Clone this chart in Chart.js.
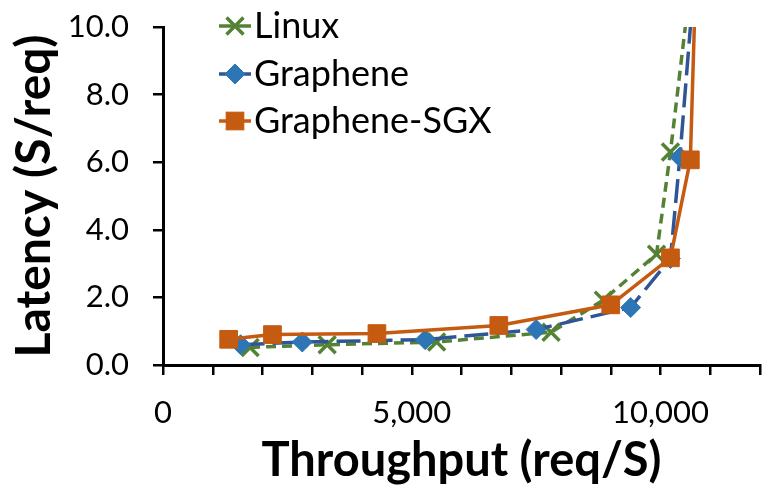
<!DOCTYPE html>
<html>
<head>
<meta charset="utf-8">
<script src="https://cdn.jsdelivr.net/npm/chart.js@4/dist/chart.umd.min.js"></script>
<style>
    html, body { margin: 0; padding: 0; background: #ffffff; }
    #wrap { width: 779px; height: 489px; }
</style>
</head>
<body>
<div id="wrap"><canvas id="latencyChart" width="779" height="489"></canvas></div>
<script>
// Series names
const seriesNames = ['Linux', 'Graphene', 'Graphene-SGX'];

// Throughput (req/S) and latency (S/req)
const linuxThroughput = [1750, 3300, 5500, 7800, 8850, 9920, 10200, 10820];
const linuxLatency    = [0.52, 0.60, 0.68, 0.97, 1.92, 3.28, 6.30, 14.0];

const grapheneThroughput = [1560, 2800, 5270, 7500, 9400, 10200, 10390, 10820];
const grapheneLatency    = [0.60, 0.68, 0.75, 1.05, 1.70, 3.15, 6.15, 14.0];

const sgxThroughput = [1320, 2200, 4300, 6750, 9000, 10200, 10600, 10760];
const sgxLatency    = [0.76, 0.90, 0.93, 1.17, 1.78, 3.17, 6.07, 14.0];

// Axis ranges / ticks
const xRange = [0, 12000];
const xTickStep = 1000;
const xLabelStep = 5000;
const yRange = [0, 10];
const yTickStep = 2;

const FONT = 'Lato, "Open Sans", sans-serif';

/**
 * Zip two arrays into {x, y} points
 */
function toPoints(xs, ys) {
    return xs.map((x, i) => ({ x: x, y: ys[i] }));
}

/**
 * Draw a legend marker the same way the chart does
 */
function drawMarker(ctx, ds, x, y) {
    ctx.save();
    ctx.setLineDash([]);
    ctx.lineWidth = ds.pointBorderWidth;
    ctx.strokeStyle = ds.pointBorderColor;
    ctx.fillStyle = ds.pointBackgroundColor;
    const r = ds.pointRadius;
    if (ds.pointStyle === 'crossRot') {
        const d = r * Math.SQRT1_2;
        ctx.beginPath();
        ctx.moveTo(x - d, y - d); ctx.lineTo(x + d, y + d);
        ctx.moveTo(x - d, y + d); ctx.lineTo(x + d, y - d);
        ctx.stroke();
    } else if (ds.pointStyle === 'rectRot') {
        ctx.beginPath();
        ctx.moveTo(x, y - r); ctx.lineTo(x + r, y);
        ctx.lineTo(x, y + r); ctx.lineTo(x - r, y);
        ctx.closePath();
        ctx.fill(); ctx.stroke();
    } else {
        const s = r * Math.SQRT1_2;
        ctx.fillRect(x - s, y - s, 2 * s, 2 * s);
        ctx.strokeRect(x - s, y - s, 2 * s, 2 * s);
    }
    ctx.restore();
}

// Legend drawn inside the plot, top left, line + marker like Excel
const insideLegend = {
    id: 'insideLegend',
    afterDraw(chart) {
        const ctx = chart.ctx;
        const rows = [26, 74, 121];
        const lineX0 = 219, lineX1 = 251, textX = 254;
        chart.data.datasets.forEach((ds, i) => {
            const y = rows[i];
            ctx.save();
            ctx.strokeStyle = ds.borderColor;
            ctx.lineWidth = ds.borderWidth;
            ctx.setLineDash([]);
            ctx.beginPath();
            ctx.moveTo(lineX0, y);
            ctx.lineTo(lineX1, y);
            ctx.stroke();
            ctx.restore();
            drawMarker(ctx, ds, (lineX0 + lineX1) / 2, y);
            ctx.save();
            ctx.fillStyle = '#000000';
            ctx.font = '36px ' + FONT;
            ctx.textBaseline = 'middle';
            ctx.textAlign = 'left';
            ctx.fillText(ds.label, textX, y);
            ctx.restore();
        });
    }
};

const datasets = [
    {
        label: seriesNames[0],
        data: toPoints(linuxThroughput, linuxLatency),
        borderColor: '#548235',
        borderWidth: 3.5,
        borderDash: [10, 6],
        pointStyle: 'crossRot',
        pointRadius: 12,
        pointBorderWidth: 3.5,
        pointBorderColor: '#548235',
        pointBackgroundColor: '#548235',
        order: 2
    },
    {
        label: seriesNames[1],
        data: toPoints(grapheneThroughput, grapheneLatency),
        borderColor: '#2F5597',
        borderWidth: 3.5,
        borderDash: [24, 8],
        pointStyle: 'rectRot',
        pointRadius: 10,
        pointBorderWidth: 1,
        pointBorderColor: '#2E75B6',
        pointBackgroundColor: '#2E75B6',
        order: 1
    },
    {
        label: seriesNames[2],
        data: toPoints(sgxThroughput, sgxLatency),
        borderColor: '#C55A11',
        borderWidth: 3.5,
        pointStyle: 'rect',
        pointRadius: 12.5,
        pointBorderWidth: 1,
        pointBorderColor: '#C55A11',
        pointBackgroundColor: '#C55A11',
        order: 0
    }
];

const axisGrid = {
    drawOnChartArea: false,
    drawTicks: true,
    tickLength: 10,
    color: '#000000',
    lineWidth: 2.5
};

new Chart(document.getElementById('latencyChart'), {
    type: 'line',
    data: { datasets: datasets },
    options: {
        responsive: false,
        animation: false,
        devicePixelRatio: 1,
        layout: { padding: { top: 27, right: 2, left: 0, bottom: 0 } },
        elements: { line: { tension: 0, fill: false } },
        plugins: {
            legend: { display: false },
            tooltip: { enabled: false }
        },
        scales: {
            x: {
                type: 'linear',
                min: xRange[0],
                max: xRange[1],
                grid: axisGrid,
                border: { display: true, color: '#000000', width: 3 },
                ticks: {
                    stepSize: xTickStep,
                    autoSkip: false,
                    maxRotation: 0,
                    padding: 19,
                    color: '#000000',
                    font: { family: FONT, size: 31 },
                    callback: v => (v % xLabelStep === 0 ? v.toLocaleString('en-US') : '')
                },
                title: {
                    display: true,
                    text: 'Throughput (req/S)',
                    color: '#000000',
                    font: { family: FONT, size: 47, weight: 'bold' },
                    padding: { top: 0, bottom: 0 }
                },
                afterFit: scale => { scale.height = 124; }
            },
            y: {
                min: yRange[0],
                max: yRange[1],
                grid: axisGrid,
                border: { display: true, color: '#000000', width: 3 },
                ticks: {
                    stepSize: yTickStep,
                    padding: 24,
                    color: '#000000',
                    font: { family: FONT, size: 31 },
                    callback: v => v.toFixed(1)
                },
                title: {
                    display: true,
                    text: 'Latency (S/req)',
                    color: '#000000',
                    font: { family: FONT, size: 48, weight: 'bold' },
                    padding: { top: 6, bottom: 0 }
                },
                afterFit: scale => {
                    // fixed axis width; label overhang is covered by layout padding
                    scale.width = 163;
                    scale.paddingTop = 0;
                    scale.paddingBottom = 0;
                }
            }
        }
    },
    plugins: [insideLegend]
});
</script>
</body>
</html>
